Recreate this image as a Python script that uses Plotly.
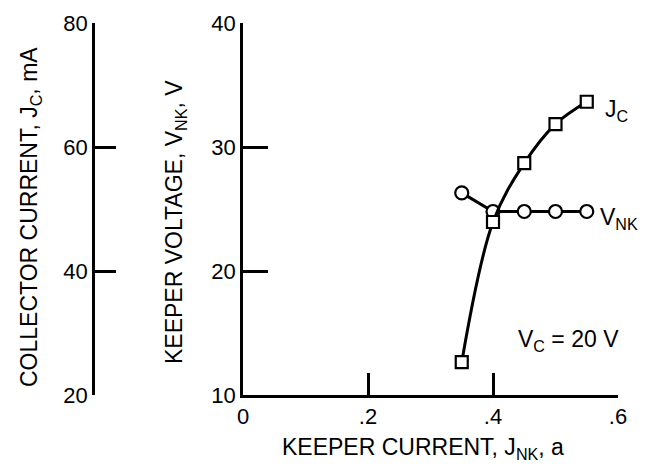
import plotly.graph_objects as go

# Data
keeper_current_jc = [0.35, 0.40, 0.45, 0.50, 0.55]          # a
collector_current = [25.3, 47.9, 57.4, 63.7, 67.3]          # mA
keeper_current_v = [0.35, 0.40, 0.45, 0.50, 0.55]           # a
keeper_voltage = [26.3, 24.8, 24.8, 24.8, 24.8]             # V

x_tickvals = [0, 0.2, 0.4, 0.6]
x_ticktext = ["0", ".2", ".4", ".6"]
y_tickvals = [10, 20, 30, 40]
y2_tickvals = [20, 40, 60, 80]

FONT = "Liberation Sans, Arial, sans-serif"
W, H = 650, 468
ML, MR, MT, MB = 0, 32, 23, 73
PW = W - ML - MR
PH = H - MT - MB

def px_x(p):
    return (p - ML) / PW

def px_y(p):
    return (H - MB - p) / PH

fig = go.Figure()

fig.add_trace(go.Scatter(
    x=keeper_current_jc, y=collector_current, yaxis="y2",
    mode="lines+markers", line=dict(color="black", width=3, shape="spline"),
    marker=dict(symbol="square", size=12, color="white", line=dict(color="black", width=2.2)),
    showlegend=False, hoverinfo="skip"))

fig.add_trace(go.Scatter(
    x=keeper_current_v, y=keeper_voltage, yaxis="y",
    mode="lines+markers", line=dict(color="black", width=3),
    marker=dict(symbol="circle", size=13, color="white", line=dict(color="black", width=2.2)),
    showlegend=False, hoverinfo="skip"))

axis_common = dict(showgrid=False, zeroline=False, showline=True, linecolor="black",
                   linewidth=2.5, ticks="inside", tickcolor="black", tickwidth=2.5,
                   tickfont=dict(family=FONT, size=22, color="black"), automargin=False)

fig.update_layout(
    width=W, height=H,
    margin=dict(l=ML, r=MR, t=MT, b=MB),
    paper_bgcolor="white", plot_bgcolor="white",
    xaxis=dict(domain=[px_x(243), 1], range=[0, 0.6], tickvals=x_tickvals,
               ticktext=x_ticktext, ticklen=22, **axis_common),
    yaxis=dict(range=[10, 40], tickvals=y_tickvals, ticklen=25, **axis_common),
    yaxis2=dict(range=[20, 80], tickvals=y2_tickvals, ticklen=21, overlaying="y",
                anchor="free", position=px_x(93), side="left", **axis_common),
)

ann_font = dict(family=FONT, size=23, color="black")

def label(px, py, text, angle=0, xanchor="center"):
    fig.add_annotation(x=px_x(px), y=px_y(py), xref="paper", yref="paper",
                       text=text, textangle=angle, showarrow=False,
                       xanchor=xanchor, yanchor="middle", font=ann_font)

label(30, 217, "COLLECTOR CURRENT, J<sub>C</sub>, mA", angle=-90)
label(175, 222, "KEEPER VOLTAGE, V<sub>NK</sub>, V", angle=-90)
label(423, 448, "KEEPER CURRENT, J<sub>NK</sub>, a")
label(603, 110, "J<sub>C</sub>", xanchor="left")
label(598, 218, "V<sub>NK</sub>", xanchor="left")
label(516, 340, "V<sub>C</sub> = 20 V", xanchor="left")

fig.write_html("out.html")
